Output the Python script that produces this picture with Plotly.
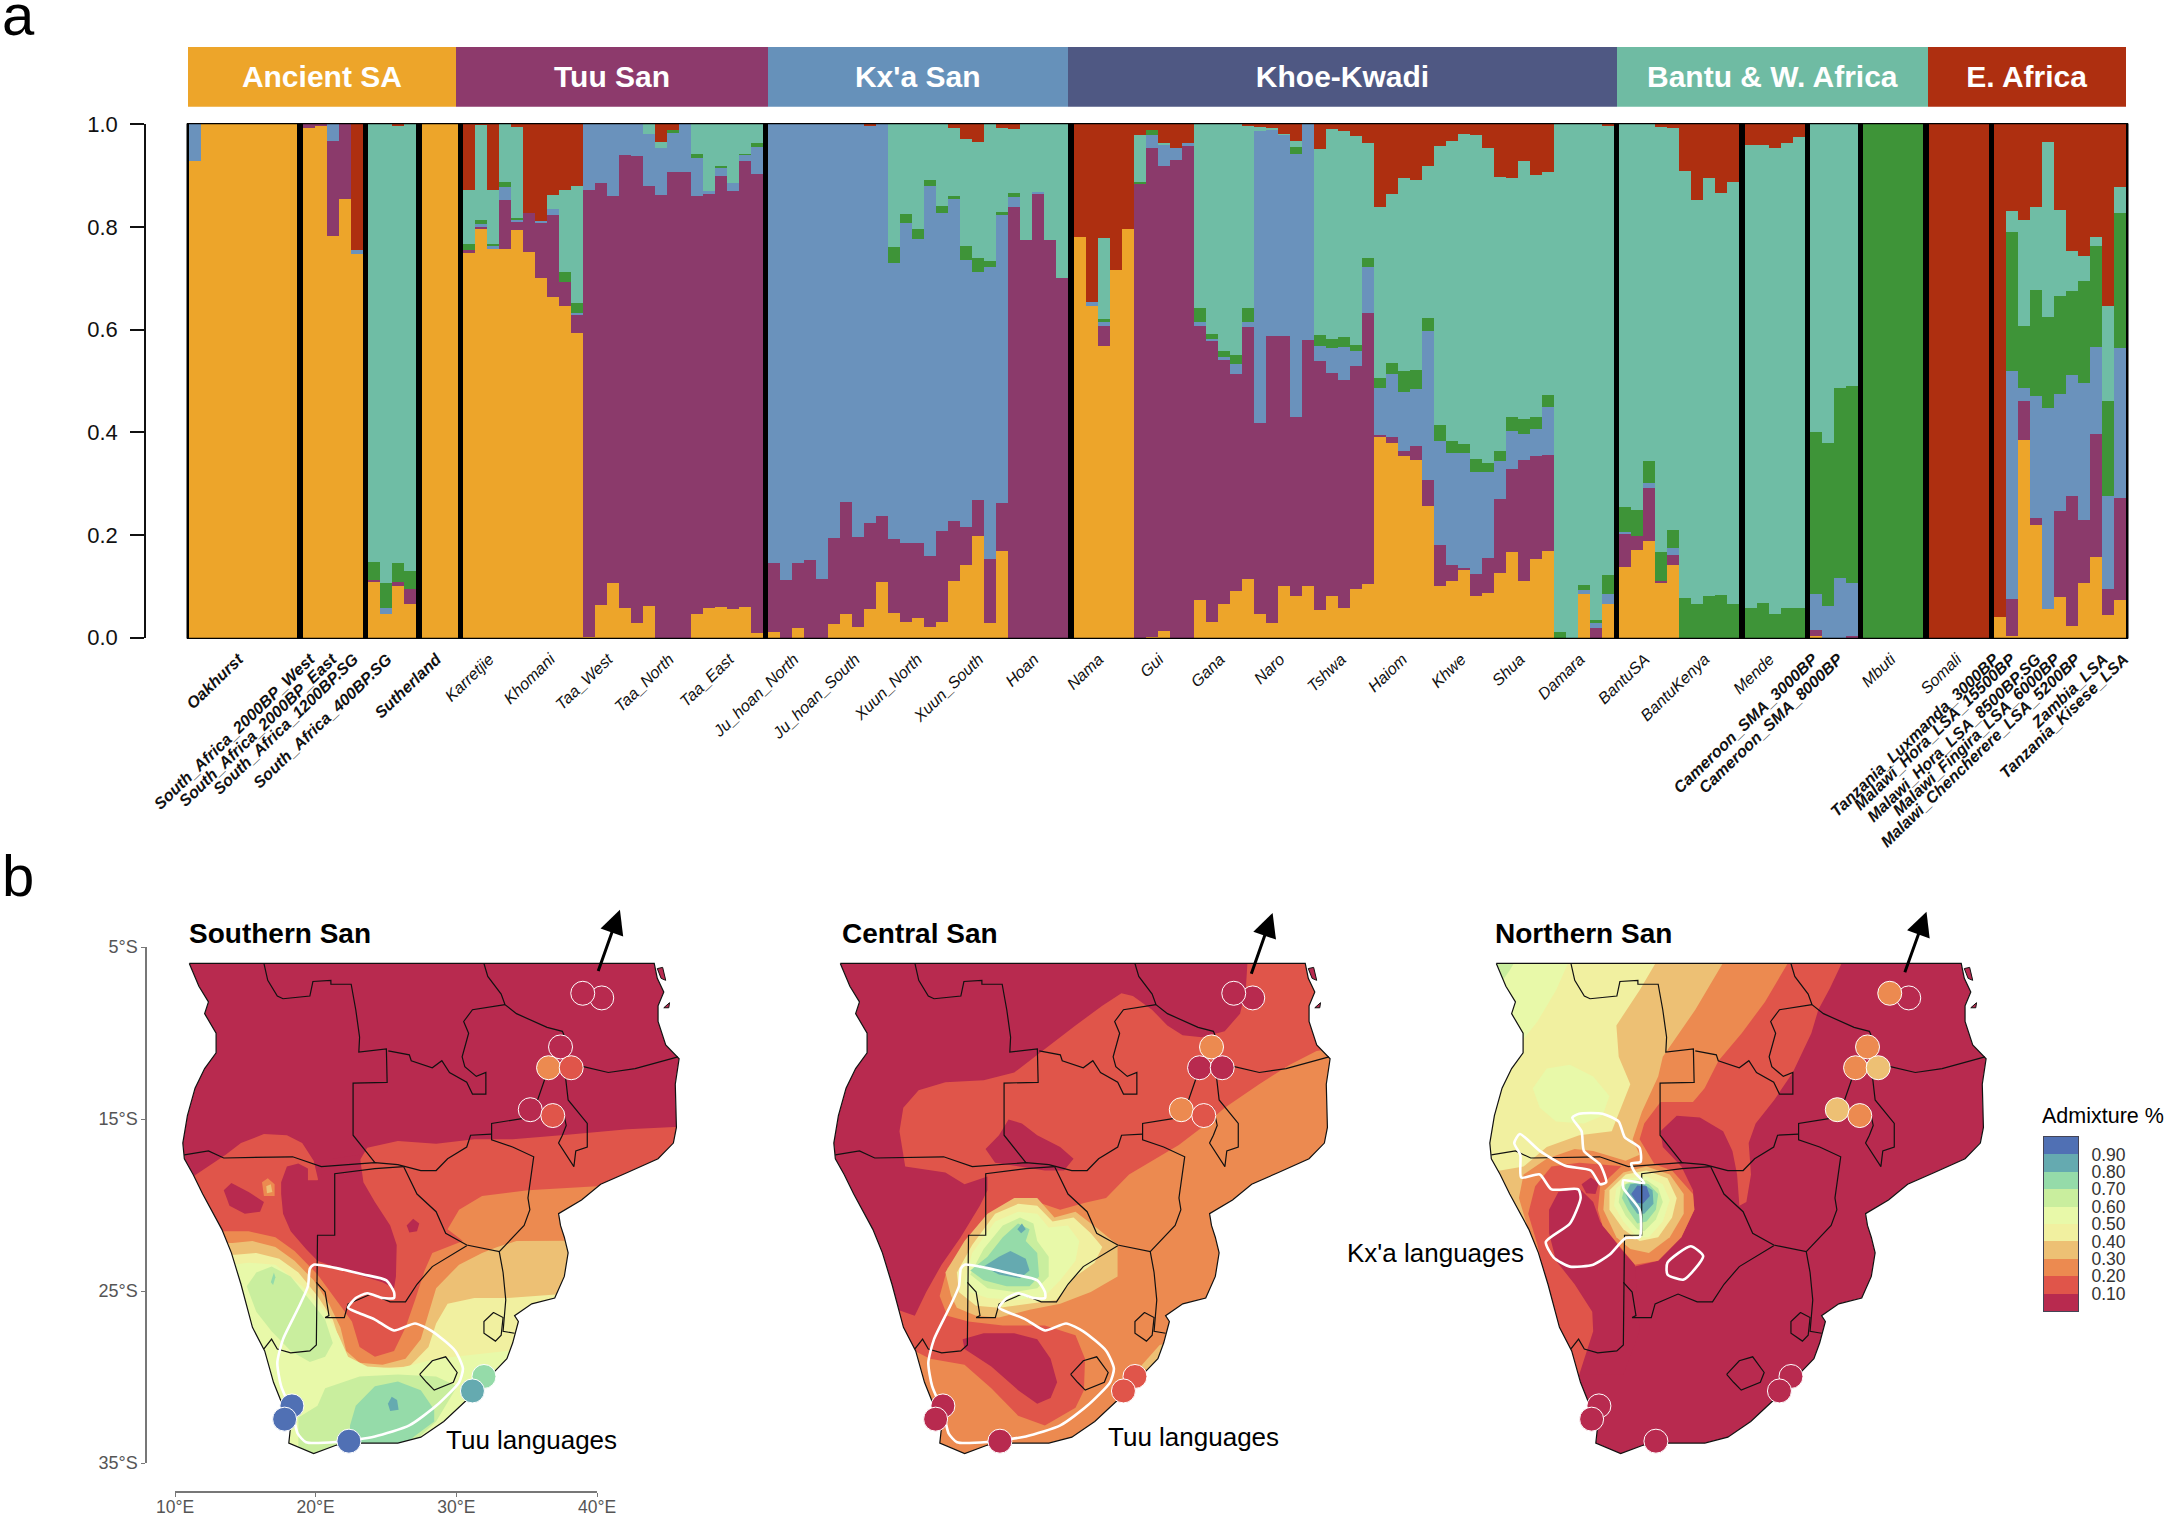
import numpy as np
import plotly.graph_objects as go

W, H = 2168, 1515
FONT = "Liberation Sans"

# ---------- panel a: ancestry proportions (cumulative top of each component per bar) ----------
panel_sizes = [9, 5, 4, 3, 25, 25, 45, 10, 5, 4, 5, 5, 11]
top_orange = [.929,1,1,1,1,1,1,1,1, .993,.996,.783,.854,.748, .108,.046,.101,.065, 1,1,1,
 .75,.796,.757,.758,.795,.751,.70,.664,.646,.593,.002,.064,.106,.057,.029,.061,0,0,0,.046,.057,.06,.056,.059,.009,
 .012,0,.019,0,0,.027,.047,.021,.056,.108,.049,.031,.038,.021,.03,.11,.142,.198,.028,.169,0,0,0,0,0,
 .781,.647,.569,.716,.796,0,.002,.013,0,0,.073,.031,.065,.09,.115,.047,.029,.10,.081,.10,.053,.082,.058,.094,.104,
 .391,.379,.354,.346,.256,.101,.11,.133,.081,.088,.126,.166,.11,.154,.168,0,0,.086,0,.065,
 .138,.17,.188,.106,.142,0,0,0,0,0, 0,0,0,0,0, .004,0,0,0, 0,0,0,0,0, 0,0,0,0,0,
 .04,.004,.385,.22,.056,.08,.022,.106,.157,.044,.073]
top_purple = [.929,1,1,1,1,1,1,1,1, 1,1,.968,1,.748, .113,.046,.108,.094, 1,1,1,
 .755,.799,.757,.852,.811,.828,.807,.823,.693,.629,.873,.886,.86,.941,.939,.88,.862,.908,.908,.86,.865,.899,.87,.929,.904,
 .146,.112,.145,.152,.115,.195,.264,.196,.223,.237,.192,.185,.184,.159,.208,.228,.216,.268,.154,.263,.838,.774,.865,.775,.70,
 .781,.647,.608,.716,.796,.885,.953,.918,.93,.958,.607,.577,.541,.513,.606,.418,.588,.587,.429,.58,.539,.515,.501,.529,.632,
 .395,.39,.364,.373,.307,.181,.142,.136,.125,.156,.27,.328,.346,.354,.355,0,0,.086,.019,.065,
 .202,.199,.292,.111,.162,0,0,0,0,0, 0,0,0,0,0, .015,0,0,.003, 0,0,0,0,0, 0,0,0,0,0,
 .04,.075,.461,.234,.056,.247,.276,.229,.396,.095,.273]
top_blue = [1,1,1,1,1,1,1,1,1, 1,1,1,1,.755, .113,.058,.108,.094, 1,1,1,
 .755,.805,.763,.877,.814,.828,.811,.836,.693,.633,1,1,1,1,1,.982,.953,.984,1,.934,.871,.915,.886,.94,.955,
 1,1,1,1,1,1,1,1,.997,1,.73,.807,.777,.88,.827,.854,.736,.712,.723,.824,.859,.774,.868,.775,.70,
 .781,.654,.615,.716,.796,.885,.979,.961,.954,.964,.615,.581,.547,.533,.615,.986,.989,.979,.943,1,.568,.565,.566,.559,.722,
 .487,.513,.478,.485,.598,.383,.359,.359,.322,.322,.344,.403,.396,.407,.45,0,0,.093,.028,.086,
 .206,.199,.301,.111,.174,0,0,0,0,0, 0,0,0,0,0, .086,.061,.117,.106, 0,0,0,0,0, 0,0,0,0,0,
 .04,.52,.486,.47,.448,.474,.511,.496,.567,.276,.565]
top_green = [1,1,1,1,1,1,1,1,1, 1,1,1,1,.755, .148,.106,.146,.129, 1,1,1,
 .767,.814,.767,.887,.818,.828,.811,.836,.712,.652,1,1,1,1,1,.982,.953,.988,1,.942,.871,.918,.886,.943,.964,
 1,1,1,1,1,1,1,1,.997,1,.761,.825,.796,.892,.841,.86,.763,.74,.733,.83,.867,.774,.868,.775,.70,
 .781,.654,.621,.716,.796,.888,.989,.961,.954,.964,.643,.591,.558,.55,.643,.986,.989,.979,.956,1,.59,.582,.585,.571,.739,
 .506,.536,.52,.522,.623,.414,.384,.378,.348,.341,.363,.429,.426,.43,.473,.012,0,.102,.034,.123,
 .255,.248,.344,.166,.209,.078,.065,.082,.083,.065, .057,.068,.047,.057,.057, .40,.38,.486,.491, 1,1,1,1,1, 0,0,0,0,0,
 .04,.79,.608,.677,.624,.665,.675,.694,.762,.461,.827]
top_teal = [1,1,1,1,1,1,1,1,1, 1,1,1,1,.755, 1,1,.997,1, 1,1,1,
 .873,.999,.873,1,.995,.828,.811,.863,.873,.879,1,1,1,1,1,1,.965,.988,1,1,1,1,1,1,1,
 1,1,1,1,1,1,1,1,.997,1,1,1,1,1,1,.992,.971,.966,1,.992,.991,1,1,1,1,
 .781,.654,.778,.716,.796,.98,.989,.964,.954,.964,1,1,1,1,.997,.995,.993,.981,.968,1,.951,.991,.986,.977,.963,
 .838,.864,.895,.892,.918,.958,.968,.981,.979,.954,.897,.896,.929,.901,.908,1,1,1,1,.998,
 1,1,1,.995,.993,.91,.852,.896,.866,.887, .96,.959,.954,.964,.976, 1,1,1,1, 1,1,1,1,1, 0,0,0,0,0,
 .04,.831,.814,.838,.966,.834,.753,.743,.78,.646,.877]
component_names = ["Ancient SA", "Tuu San", "Kx'a San", "Rainforest", "Bantu", "E. Africa"]
component_colors = ["#EDA52A", "#8B3A6B", "#6A92BC", "#3E9438", "#6FBDA5", "#AE2F10"]

group_names = ["Ancient SA", "Tuu San", "Kx'a San", "Khoe-Kwadi", "Bantu & W. Africa", "E. Africa"]
group_colors = ["#EDA52A", "#8D3A6C", "#6691BA", "#4F5883", "#6FBBA3", "#AE2F10"]
group_edges = [-0.15, 22.25, 48.2, 73.2, 119.0, 144.85, 161.4]

pop_labels = ["Oakhurst","South_Africa_2000BP_West","South_Africa_2000BP_East","South_Africa_1200BP.SG",
 "South_Africa_400BP.SG","Sutherland","Karretjie","Khomani","Taa_West","Taa_North","Taa_East","Ju_hoan_North",
 "Ju_hoan_South","Xuun_North","Xuun_South","Hoan","Nama","Gui","Gana","Naro","Tshwa","Haiom","Khwe","Shua","Damara",
 "BantuSA","BantuKenya","Mende","Cameroon_SMA_3000BP","Cameroon_SMA_8000BP","Mbuti","Somali",
 "Tanzania_Luxmanda_3000BP","Malawi_Hora_LSA_15500BP","Malawi_Hora_LSA_8500BP.SG","Malawi_Fingira_LSA_6000BP",
 "Malawi_Chencherere_LSA_5200BP","Zambia_LSA","Tanzania_Kisese_LSA"]
pop_ancient = {"Oakhurst","South_Africa_2000BP_West","South_Africa_2000BP_East","South_Africa_1200BP.SG",
 "South_Africa_400BP.SG","Sutherland","Cameroon_SMA_3000BP","Cameroon_SMA_8000BP","Tanzania_Luxmanda_3000BP",
 "Malawi_Hora_LSA_15500BP","Malawi_Hora_LSA_8500BP.SG","Malawi_Fingira_LSA_6000BP","Malawi_Chencherere_LSA_5200BP",
 "Zambia_LSA","Tanzania_Kisese_LSA"}
pop_ticks = [4.1,10.05,11.9,13.7,16.5,20.6,25.0,30.1,34.9,40.0,45.0,50.4,55.5,60.7,65.8,70.4,75.8,80.8,85.9,90.9,96.0,
 101.1,106.0,110.9,115.9,121.3,126.3,131.7,135.3,137.4,141.8,147.3,150.4,151.8,153.9,155.5,157.2,159.5,161.2]

# ---------- panel b: sampling sites and admixture fractions ----------
site_lon = [40.33, 38.98, 37.40, 36.55, 38.16, 35.25, 36.85, 31.96, 31.14, 18.31, 17.79, 22.36]
site_lat = [-7.96, -7.69, -10.81, -12.02, -12.02, -14.46, -14.80, -29.97, -30.81, -31.68, -32.45, -33.73]
southern_values = [.05, .05, .05, .25, .15, .05, .15, .75, .85, .95, .95, .95]
central_values  = [.05, .05, .25, .05, .05, .25, .15, .15, .15, .05, .05, .05]
northern_values = [.05, .25, .25, .25, .35, .35, .25, .05, .05, .05, .05, .05]

legend_ticks = [.1, .2, .3, .4, .5, .6, .7, .8, .9]
legend_centers = [.05, .15, .25, .35, .45, .55, .65, .75, .85, .95]
legend_colors = ["#B82A4F", "#E0554A", "#EC8A50", "#EDC074", "#F1F0A0", "#E8F9A9", "#C9EE9E", "#95DBA9", "#65AAB0", "#5070B4"]

# Outlines on a tracing grid; converted to degrees by to_deg().
COAST = [(155,162),(1370,162),(1378,200),(1395,235),(1380,270),(1380,310),(1400,370),(1435,405),(1425,470),(1428,580),
 (1420,620),(1380,660),(1300,695),(1230,725),(1180,765),(1120,800),(1125,830),(1135,860),(1145,900),(1135,960),(1110,1015),
 (1050,1030),(1005,1060),(1015,1075),(1000,1130),(985,1170),(955,1200),(920,1240),(880,1275),(820,1330),(760,1370),(700,1385),
 (600,1385),(540,1390),(480,1412),(440,1395),(415,1385),(420,1340),(400,1290),(375,1230),(352,1150),(320,1090),(290,980),
 (265,900),(240,840),(190,750),(165,700),(142,660),(138,620),(150,550),(170,480),(195,430),(225,390),(225,340),(195,290),
 (205,260),(180,220)]
ISLAND_A = [(1378,175),(1392,172),(1400,205),(1388,200)]
ISLAND_B = [(1395,275),(1410,262),(1408,275)]
BORDER_LINES = [
 [(350,162),(360,205),(385,245),(400,252),(470,245),(478,208),(525,205),(525,215),(578,215),(590,280),(600,350),(598,388),(670,380),(672,465),(583,467),(583,600),(640,670)],
 [(675,385),(730,395),(735,410),(790,428),(815,410),(835,440),(880,465),(895,495),(930,495),(930,440),(905,450),(875,425),(868,400),(885,340),(872,310),(895,280),(980,267)],
 [(925,162),(935,195),(970,240),(980,267),(1010,290),(1090,325),(1130,335),(1145,370),(1135,425),(1145,510),(1195,570),(1195,630),(1165,640),(1160,680),(1120,620),(1130,600),(1140,575),(1130,530)],
 [(1135,425),(1185,425),(1250,440),(1320,430),(1432,400)],
 [(1090,440),(1070,495),(1060,525),(1040,555),(945,570),(945,612),(1000,630),(1055,655),(1040,760),(1045,790),(1030,830),(965,897),(880,880),(825,850),(800,795),(750,750),(715,680)],
 [(142,650),(205,640),(245,658),(425,655),(500,680),(640,670),(700,675),(760,690),(800,690),(830,660),(880,630),(890,600),(945,597)],
 [(715,680),(640,685),(535,698),(535,855),(490,855),(487,1135),(470,1150),(420,1155),(385,1145),(370,1120),(350,1145)],
 [(487,975),(510,1000),(520,1060),(510,1065),(560,1065),(570,1030),(630,1005),(680,1025),(720,1025),(750,980),(790,935),(880,882)],
 [(965,897),(975,950),(982,1020),(975,1100),(1005,1105)],
 [(950,1052),(975,1065),(970,1110),(955,1125),(925,1105),(925,1075),(950,1052)],
 [(757,1210),(790,1175),(825,1165),(855,1205),(845,1230),(795,1250),(775,1230),(757,1210)],
]
TUU_RANGE = [(480,930),(470,940),(465,985),(440,1040),(400,1120),(385,1180),(395,1240),(425,1310),(438,1360),(460,1383),(540,1382),
 (640,1368),(730,1340),(800,1290),(860,1230),(870,1195),(850,1150),(790,1100),(745,1080),(690,1098),(640,1070),(590,1050),(570,1040),
 (590,1015),(620,1003),(660,1015),(690,1015),(690,1000),(670,970),(610,955),(520,935),(480,930)]
KXA_RANGE_A = [(440,722),(420,695),(412,672),(432,668),(430,632),(398,605),(385,565),(350,545),(300,545),(285,555),(305,590),(310,640),
 (345,675),(358,720),(345,725),(325,690),(270,678),(215,640),(172,597),(160,620),(173,650),(175,708),(215,700),(240,738),(298,738),
 (303,760),(280,825),(228,872),(245,912),(280,935),(330,930),(365,905),(400,862),(430,860),(430,790),(395,735),(395,715),(440,722)]
KXA_RANGE_B = [(490,925),(540,883),(567,908),(525,968),(490,955),(490,925)]

# Southern San bands
S_20 = [(100,710),(165,705),(250,650),(290,620),(350,597),(410,600),(450,620),(480,665),(492,715),(530,680),(600,665),(620,632),(700,615),(800,622),(900,610),(1000,610),(1150,598),(1300,585),(1500,575),(1500,1500),(100,1500)]
S_10A = [(395,750),(395,720),(410,680),(440,672),(465,685),(465,715),(490,715),(530,660),(600,650),(605,680),(610,720),(640,770),(680,830),(697,880),(695,960),(690,990),(660,975),(560,945),(490,920),(460,890),(420,845),(400,800)]
S_10B = [(245,740),(265,722),(310,745),(350,770),(340,795),(300,800),(260,780)]
S_10C = [(723,830),(740,813),(756,825),(750,845),(730,848)]
S_30A = [(345,720),(360,710),(378,725),(378,755),(350,755)]
S_40A = [(356,730),(368,725),(372,745),(358,748)]
S_30 = [(100,845),(250,845),(310,845),(380,860),(430,895),(490,955),(540,1020),(580,1075),(600,1140),(640,1165),(690,1150),(720,1090),(745,1020),(770,945),(790,900),(870,870),(830,840),(860,790),(920,755),(1040,740),(1220,730),(1500,720),(1500,1500),(100,1500)]
S_40 = [(100,875),(268,875),(320,870),(380,885),(430,920),(480,970),(520,1030),(550,1090),(565,1150),(600,1180),(660,1185),(720,1170),(760,1120),(785,1040),(800,990),(860,930),(920,900),(960,885),(1010,870),(1500,868),(1500,1500),(100,1500)]
S_50 = [(100,905),(275,905),(330,900),(390,915),(440,950),(490,1010),(530,1070),(550,1130),(570,1190),(640,1195),(730,1190),(780,1140),(800,1080),(830,1030),(900,1015),(985,1015),(1130,1005),(1500,1000),(1500,1500),(100,1500)]
S_60 = [(100,930),(265,930),(310,925),(380,930),(450,985),(510,1050),(545,1110),(570,1165),(620,1190),(700,1195),(800,1170),(900,1160),(985,1150),(1050,1140),(1500,1140),(1500,1500),(100,1500)]
S_70A = [(305,985),(330,950),(370,935),(420,960),(470,1020),(510,1070),(530,1130),(510,1165),(470,1178),(420,1150),(370,1100),(330,1050)]
S_70B = [(440,1320),(490,1290),(510,1245),(600,1215),(700,1210),(800,1215),(855,1240),(830,1280),(800,1330),(700,1420),(440,1420)]
S_80 = [(575,1340),(590,1290),(640,1240),(700,1228),(760,1250),(795,1300),(795,1330),(740,1370),(680,1420),(600,1420),(575,1370)]
S_85 = [(674,1285),(684,1267),(698,1275),(702,1300),(680,1303)]
S_80B = [(368,975),(376,950),(380,962),(374,982)]
southern_bands = [(.05+.1,S_20),(.05,S_10A),(.05,S_10B),(.05,S_10C),(.25,S_30A),(.35,S_40A),(.25,S_30),(.35,S_40),(.45,S_50),(.55,S_60),
                  (.65,S_70A),(.65,S_70B),(.75,S_80),(.75,S_80B),(.85,S_85)]

# Central San bands
C_20 = [(1170,150),(1165,230),(1150,290),(1110,335),(1050,350),(1000,345),(960,320),(920,280),(870,245),(840,238),(790,270),(720,320),(640,380),(560,440),(480,460),(380,465),(310,485),(270,530),(260,590),(275,680),(380,695),(430,725),(490,705),(490,740),(470,780),(420,860),(370,930),(330,1000),(300,1060),(240,1040),(200,1060),(200,1500),(1450,1500),(1450,150)]
C_10A = [(485,635),(520,600),(545,560),(580,570),(620,600),(680,630),(715,660),(690,690),(640,690),(580,680),(510,670)]
C_10B = [(425,1120),(480,1105),(560,1105),(620,1120),(655,1170),(672,1230),(655,1270),(620,1285),(570,1250),(500,1190),(430,1145)]
C_30 = [(1450,370),(1350,385),(1280,420),(1200,470),(1110,530),(1050,580),(990,625),(930,660),(860,700),(800,760),(745,772),(680,790),(620,770),(520,800),(440,870),(385,940),(365,1010),(385,1060),(440,1075),(530,1085),(640,1085),(720,1110),(745,1170),(742,1250),(720,1295),(640,1340),(570,1315),(500,1245),(430,1185),(340,1170),(300,1150),(280,1200),(300,1500),(1450,1500)]
C_40 = [(395,1010),(380,950),(430,870),(490,800),(560,760),(620,760),(665,810),(720,795),(780,840),(830,880),(830,960),(760,1000),(680,1030),(600,1045),(520,1065),(460,1060),(410,1040)]
C_40B = [(890,1190),(940,1135),(960,1130),(945,1175),(910,1200)]
C_50 = [(415,1000),(410,950),(450,880),(510,800),(570,775),(620,780),(660,820),(715,810),(760,850),(790,885),(770,925),(720,960),(670,1020),(590,1030),(520,1040),(460,1035)]
C_60 = [(430,975),(450,900),(510,820),(570,795),(620,800),(650,835),(700,830),(730,870),(720,920),(680,970),(640,1010),(570,1020),(490,1015),(445,1000)]
C_70 = [(445,955),(480,890),(530,830),(575,810),(610,825),(620,870),(650,910),(650,960),(620,990),(560,1000),(490,990)]
C_80 = [(445,945),(490,910),(530,860),(570,825),(600,840),(590,870),(620,900),(625,960),(600,985),(540,985),(480,970)]
C_85 = [(480,935),(520,910),(550,895),(590,915),(600,945),(575,965),(520,955)]
C_85B = [(568,840),(580,825),(590,840),(578,850)]
central_bands = [(.15,C_20),(.05,C_10A),(.05,C_10B),(.25,C_30),(.35,C_40),(.35,C_40B),(.45,C_50),(.55,C_60),(.65,C_70),(.75,C_80),(.85,C_85),(.85,C_85B)]

# Northern San bands
N_20 = [(870,150),(840,225),(815,280),(800,340),(760,440),(720,510),(680,570),(665,620),(670,700),(660,770),(645,780),(640,700),(630,640),(610,590),(560,555),(510,550),(475,590),(480,630),(520,680),(545,740),(548,790),(520,860),(470,920),(420,935),(395,1160),(300,1210),(50,1210),(50,150)]
N_30 = [(755,150),(700,260),(650,340),(600,410),(570,480),(545,515),(475,515),(440,570),(430,610),(450,650),(465,680),(400,680),(300,670),(240,680),(205,730),(190,800),(210,880),(225,960),(240,1040),(200,1040),(50,1040),(50,150)]
N_40 = [(615,150),(550,280),(480,400),(470,450),(435,540),(415,610),(430,650),(400,665),(330,640),(290,635),(230,660),(180,700),(170,760),(190,840),(50,840),(50,150)]
N_50 = [(470,150),(430,230),(380,320),(385,400),(410,470),(390,530),(370,590),(300,600),(230,630),(180,680),(130,690),(50,690),(50,150)]
N_60A = [(280,150),(250,230),(210,310),(170,370),(140,470),(100,550),(50,550),(50,150)]
N_60B = [(200,480),(230,430),(280,420),(330,450),(365,500),(350,550),(310,570),(250,565),(215,530)]
N_70 = [(110,150),(165,150),(150,180),(135,205)]
N_10A = [(300,1210),(330,1100),(328,1050),(290,980),(250,920),(235,850),(235,790),(255,745),(300,735),(330,770),(345,820),(390,890),(420,930),(430,1100),(395,1210)]
N_10B = [(305,725),(325,708),(342,722),(335,750),(315,748)]
N_30B = [(340,790),(345,730),(390,680),(440,665),(500,690),(545,750),(548,790),(520,860),(470,920),(420,930),(385,880),(350,830)]
N_40B = [(352,790),(355,740),(395,695),(445,680),(495,700),(525,750),(525,800),(495,860),(450,900),(410,890),(380,860)]
N_50B = [(365,790),(365,740),(400,700),(445,690),(490,710),(510,760),(500,810),(470,860),(430,870),(395,840)]
N_60C = [(375,780),(380,735),(405,710),(445,705),(480,725),(495,765),(480,820),(450,860),(425,860),(395,820)]
N_70B = [(385,770),(390,730),(415,715),(445,715),(470,735),(480,770),(465,815),(440,845),(425,840),(400,805)]
N_80 = [(392,760),(400,725),(425,718),(450,725),(470,750),(465,790),(445,820),(425,825),(405,790)]
N_85 = [(400,750),(410,725),(435,722),(458,740),(460,775),(440,800),(425,800),(410,775)]
N_90 = [(412,750),(425,728),(445,730),(452,755),(437,775),(425,772)]
northern_bands = [(.15,N_20),(.25,N_30),(.35,N_40),(.45,N_50),(.55,N_60A),(.55,N_60B),(.65,N_70),(.05,N_10A),(.05,N_10B),(.25,N_30B),
                  (.35,N_40B),(.45,N_50B),(.55,N_60C),(.65,N_70B),(.75,N_80),(.85,N_85),(.95,N_90)]

# ---------- helpers ----------
def color_of(v):
    return legend_colors[int(round((v - .05) / .1))]

def to_deg(pts, x0=117.6, k=36.77):
    lon = [10 + (p[0] - x0) / k for p in pts]
    lat = [-(5 + (p[1] - 120) / 43.86) for p in pts]
    return lon, lat

def dom_x(a, b):
    return [a / W, b / W]

def dom_y(top, bottom):
    return [1 - bottom / H, 1 - top / H]

def px(x, y):
    return x / W, 1 - y / H

fig = go.Figure()

# ---------- bar chart ----------
n_bars = sum(panel_sizes)
gap = 0.45
positions = []
cursor = 0.0
for size in panel_sizes:
    positions += [cursor + i + .5 for i in range(size)]
    cursor += size + gap
tops = np.array([top_orange, top_purple, top_blue, top_green, top_teal, [1.0] * n_bars])
assert tops.shape[1] == n_bars
heights = np.diff(np.vstack([np.zeros(n_bars), tops]), axis=0).clip(0)
for name, colour, h in zip(component_names, component_colors, heights):
    fig.add_trace(go.Bar(x=positions, y=h, width=1.0, name=name, marker=dict(color=colour, line=dict(width=0)),
                         xaxis="x", yaxis="y", showlegend=False))
# header strip
fig.add_trace(go.Bar(x=[(a + b) / 2 for a, b in zip(group_edges[:-1], group_edges[1:])], y=[1] * 6,
                     width=[b - a for a, b in zip(group_edges[:-1], group_edges[1:])],
                     marker=dict(color=group_colors, line=dict(width=0)), text=[f"<b>{g}</b>" for g in group_names],
                     textposition="inside", insidetextanchor="middle", textangle=0, constraintext="none",
                     textfont=dict(family=FONT, size=30, color="white"), xaxis="x2", yaxis="y2", showlegend=False))

x_range = [-0.15, cursor - gap + .15]
ticktext = [f"<b><i>{p}</i></b>" if p in pop_ancient else f"<i>{p}</i>" for p in pop_labels]
layout = dict(
    template="none", barmode="stack", width=W, height=H, margin=dict(l=0, r=0, t=0, b=0, pad=0), autosize=False,
    plot_bgcolor="rgba(0,0,0,0)", paper_bgcolor="white", font=dict(family=FONT), showlegend=False,
    xaxis=dict(domain=dom_x(187.5, 2127.9), range=x_range, tickmode="array", tickvals=pop_ticks, ticktext=ticktext,
               tickangle=-44, ticks="", ticklabelstandoff=8, tickfont=dict(family=FONT, size=16.2, color="#111"), anchor="y",
               showgrid=False, zeroline=False, automargin=False),
    yaxis=dict(domain=dom_y(124.3, 637.7), range=[0, 1], anchor="free", position=145 / W, tickmode="array",
               tickvals=[0, .2, .4, .6, .8, 1], ticktext=["0.0", "0.2", "0.4", "0.6", "0.8", "1.0"], ticks="outside", ticklen=14,
               ticklabelstandoff=8, tickwidth=1.5, tickcolor="#111", showline=True, linecolor="#111", linewidth=1.5, automargin=False,
               tickfont=dict(family=FONT, size=22, color="#111"), showgrid=False, zeroline=False),
    xaxis2=dict(domain=dom_x(187.5, 2127.9), range=x_range, visible=False, anchor="y2"),
    yaxis2=dict(domain=dom_y(46.7, 106.7), range=[0, 1], visible=False, anchor="x2"),
    shapes=[dict(type="rect", xref="paper", yref="paper", x0=187 / W, x1=2128 / W, y0=1 - 638.5 / H, y1=1 - 123.5 / H,
                 fillcolor="black", line=dict(color="black", width=1), layer="below")],
)

# ---------- maps ----------
maps = [
    dict(dx=0, bands=southern_bands, x0=117.6, k=36.77, vals=southern_values, ranges=[TUU_RANGE], range_x0=117.6, range_k=36.77),
    dict(dx=651, bands=central_bands, x0=68.0, k=36.77, vals=central_values, ranges=[TUU_RANGE], range_x0=117.6, range_k=36.77),
    dict(dx=1307, bands=northern_bands, x0=90.5, k=30.31, vals=northern_values, ranges=[KXA_RANGE_A, KXA_RANGE_B], range_x0=90.5, range_k=30.31),
]
PX_PER_LON, PX_PER_LAT = 14.07, 17.2
for i, m in enumerate(maps):
    ax = str(i + 3)
    xa, ya = "x" + ax, "y" + ax
    left, right = 150.0, 700.0
    lon_rng = [10 + (left - 175) / PX_PER_LON, 10 + (right - 175) / PX_PER_LON]
    top, bottom = 930.0, 1480.0
    lat_rng = [-(5 + (bottom - 947) / PX_PER_LAT), -(5 + (top - 947) / PX_PER_LAT)]
    layout["xaxis" + ax] = dict(domain=dom_x(left + m["dx"], right + m["dx"]), range=lon_rng, visible=False, anchor=ya)
    layout["yaxis" + ax] = dict(domain=dom_y(top, bottom), range=lat_rng, visible=False, anchor=xa)

    cx, cy = to_deg(COAST + COAST[:1])
    fig.add_trace(go.Scatter(x=cx, y=cy, mode="lines", fill="toself", fillcolor=legend_colors[0], line=dict(width=0),
                             xaxis=xa, yaxis=ya, showlegend=False, hoverinfo="skip"))
    for level, poly in m["bands"]:
        bx, by = to_deg(poly + poly[:1], m["x0"], m["k"])
        fig.add_trace(go.Scatter(x=bx, y=by, mode="lines", fill="toself", fillcolor=color_of(level), line=dict(width=0),
                                 xaxis=xa, yaxis=ya, showlegend=False, hoverinfo="skip"))
    # white mask outside the land
    outer = [(-1500, -800), (-1500, 2600), (3000, 2600), (3000, -800), (-1500, -800)]
    mx, my = to_deg(COAST + COAST[:1] + outer + COAST[:1])
    fig.add_trace(go.Scatter(x=mx, y=my, mode="lines", fill="toself", fillcolor="white", line=dict(width=0),
                             line_simplify=False, xaxis=xa, yaxis=ya, showlegend=False, hoverinfo="skip"))
    for isl in (ISLAND_A, ISLAND_B):
        ix, iy = to_deg(isl + isl[:1])
        fig.add_trace(go.Scatter(x=ix, y=iy, mode="lines", fill="toself", fillcolor=legend_colors[0],
                                 line=dict(width=1, color="#111"), xaxis=xa, yaxis=ya, showlegend=False, hoverinfo="skip"))
    fig.add_trace(go.Scatter(x=cx, y=cy, mode="lines", line=dict(width=1.2, color="#111"), xaxis=xa, yaxis=ya,
                             showlegend=False, hoverinfo="skip"))
    for line in BORDER_LINES:
        lx, ly = to_deg(line)
        fig.add_trace(go.Scatter(x=lx, y=ly, mode="lines", line=dict(width=1.2, color="#111"), xaxis=xa, yaxis=ya,
                                 showlegend=False, hoverinfo="skip"))
    for r in m["ranges"]:
        rx, ry = to_deg(r, m["range_x0"], m["range_k"])
        fig.add_trace(go.Scatter(x=rx, y=ry, mode="lines", line=dict(width=2.6, color="white", shape="spline", smoothing=.6),
                                 xaxis=xa, yaxis=ya, showlegend=False, hoverinfo="skip"))
    fig.add_trace(go.Scatter(x=site_lon, y=site_lat, mode="markers",
                             marker=dict(size=24, color=[color_of(v) for v in m["vals"]], line=dict(width=1, color="white")),
                             xaxis=xa, yaxis=ya, showlegend=False, hoverinfo="skip"))

# graticule axes (left map only)
fig.add_trace(go.Scatter(x=[10, 40], y=[-5, -35], mode="none", xaxis="x6", yaxis="y6", showlegend=False, hoverinfo="skip"))
layout["xaxis6"] = dict(domain=dom_x(175, 597), range=[10, 40], anchor="free", position=1 - 1492 / H, tickmode="array",
                        tickvals=[10, 20, 30, 40], ticktext=["10°E", "20°E", "30°E", "40°E"], ticks="outside", ticklen=4,
                        ticklabelstandoff=-5, tickcolor="#777", showline=True, linecolor="#777", linewidth=1.5, showgrid=False,
                        zeroline=False, automargin=False, tickfont=dict(family=FONT, size=17.5, color="#555"))
layout["yaxis6"] = dict(domain=dom_y(947, 1463), range=[-35, -5], anchor="free", position=146 / W, tickmode="array",
                        tickvals=[-5, -15, -25, -35], ticktext=["5°S", "15°S", "25°S", "35°S"], ticks="outside", ticklen=4,
                        tickcolor="#777", showline=True, linecolor="#777", linewidth=1.5, showgrid=False, zeroline=False, automargin=False,
                        tickfont=dict(family=FONT, size=18, color="#555"))

# colour key
scale = []
for j, c in enumerate(legend_colors):
    scale += [[j / 10, c], [(j + 1) / 10, c]]
fig.add_trace(go.Heatmap(x=[0], y=legend_centers, z=[[v] for v in legend_centers], zmin=0, zmax=1, colorscale=scale,
                         showscale=False, xaxis="x7", yaxis="y7", hoverinfo="skip"))
layout["xaxis7"] = dict(domain=dom_x(2043.5, 2078), range=[-.5, .5], anchor="y7", showticklabels=False, ticks="", showline=True,
                        mirror=True, linecolor="#445", linewidth=1, showgrid=False, zeroline=False, automargin=False)
layout["yaxis7"] = dict(domain=dom_y(1137, 1311), range=[0, 1], anchor="x7", side="right", tickmode="array", tickvals=legend_ticks,
                        ticktext=[f"{t:.2f}" for t in legend_ticks], ticks="outside", ticklen=9, tickcolor="rgba(0,0,0,0)",
                        showline=True, mirror=True, linecolor="#445", linewidth=1, showgrid=False, zeroline=False, automargin=False,
                        tickfont=dict(family=FONT, size=17.5, color="#333"))

def text(x, y, s, size, color="black", anchor="left"):
    ax_, ay_ = px(x, y)
    return dict(x=ax_, y=ay_, xref="paper", yref="paper", text=s, showarrow=False, xanchor=anchor, yanchor="middle",
                font=dict(family=FONT, size=size, color=color))

def arrow(tail, tip):
    tx, ty = px(*tip)
    return dict(x=tx, y=ty, xref="paper", yref="paper", ax=tail[0] - tip[0], ay=tail[1] - tip[1], axref="pixel", ayref="pixel",
                text="", showarrow=True, arrowhead=2, arrowsize=1.6, arrowwidth=3, arrowcolor="black", standoff=0)

layout["annotations"] = [
    text(0, 14, "a", 58), text(0, 876, "b", 58),
    text(187, 934, "<b>Southern San</b>", 28), text(840, 934, "<b>Central San</b>", 28), text(1493, 934, "<b>Northern San</b>", 28),
    text(444, 1440, "Tuu languages", 26), text(1106, 1437, "Tuu languages", 26), text(1345, 1253, "Kx'a languages", 26),
    text(2040, 1116, "Admixture %", 21.5),
    arrow((597.7, 972.5), (619.9, 909.8)), arrow((1250.8, 975.3), (1272.6, 913)), arrow((1904.3, 973.7), (1926.5, 911.8)),
]
fig.update_layout(**layout)
fig.write_html("out.html", config={"displayModeBar": False}, post_script="document.body.style.margin='0';document.body.style.overflow='hidden';")
